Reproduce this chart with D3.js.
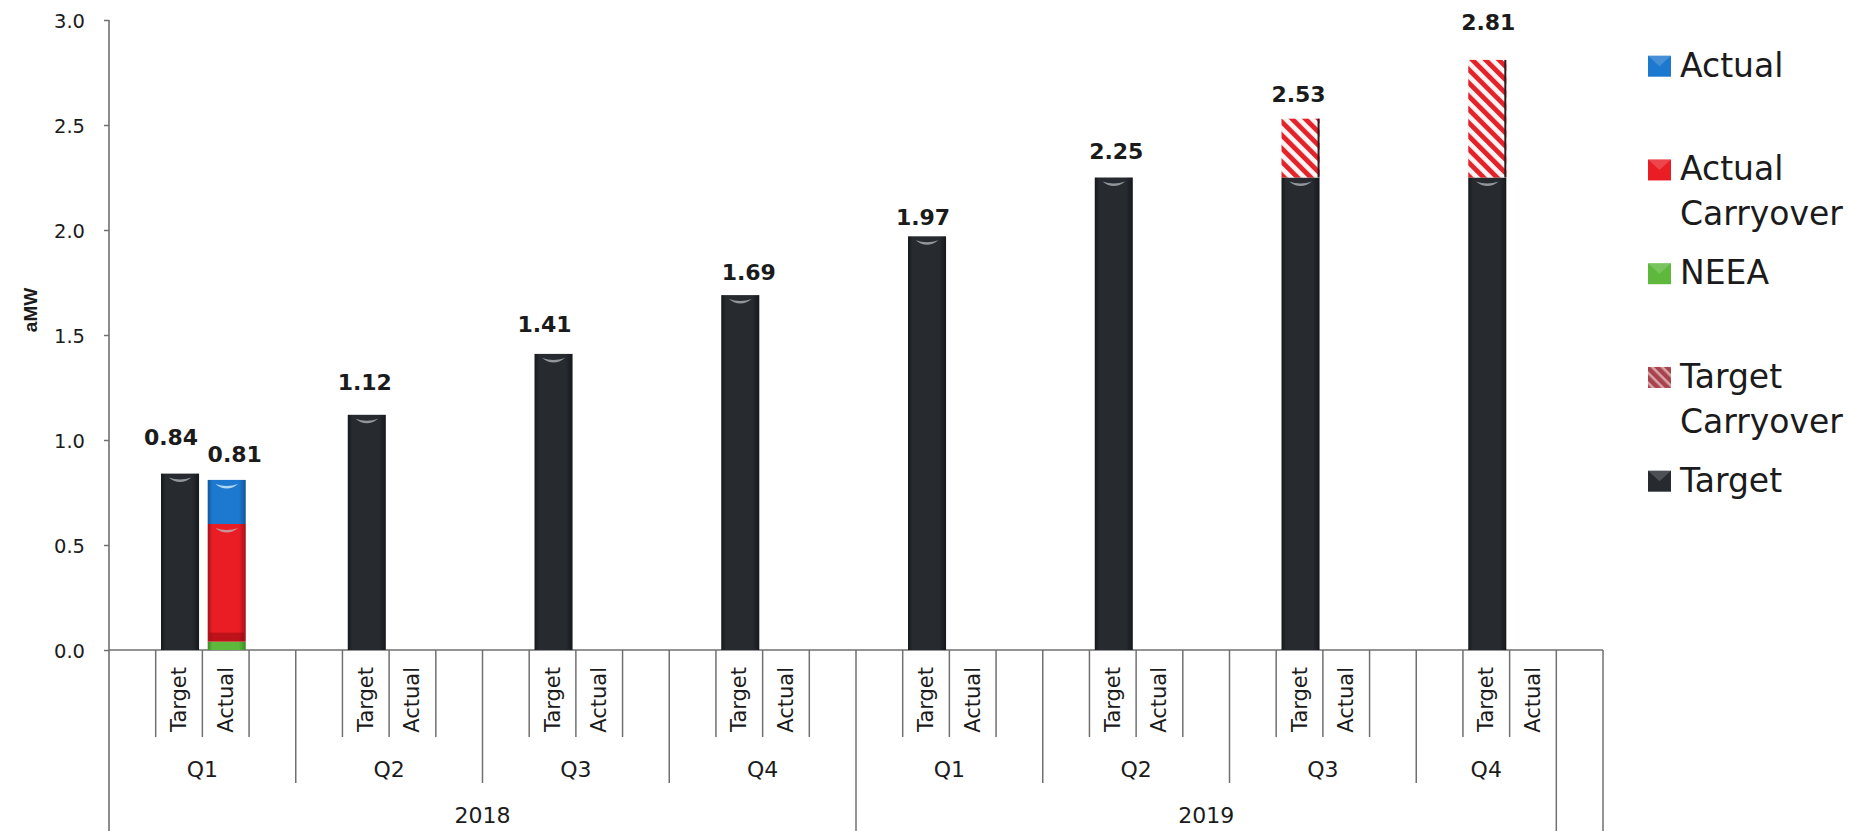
<!DOCTYPE html>
<html>
<head>
<meta charset="utf-8">
<script src="https://cdn.jsdelivr.net/npm/d3@7"></script>
<style>
  html, body { margin: 0; padding: 0; background: #ffffff; }
  svg { display: block; }
</style>
</head>
<body>
<div id="chart"></div>
<script>
// ---------------- DATA ----------------
const years = ["2018", "2019"];
const quarters = ["Q1", "Q2", "Q3", "Q4"];
const subLabels = ["Target", "Actual"];
const seriesNames = ["Target", "Target Carryover", "NEEA", "Actual Carryover", "Actual"];

// one value per quarter (2018 Q1 .. 2019 Q4)
const targetVals          = [0.84, 1.12, 1.41, 1.69, 1.97, 2.25, 2.25, 2.25];
const targetCarryoverVals = [0, 0, 0, 0, 0, 0, 0.28, 0.56];
const neeaVals            = [0.04, 0, 0, 0, 0, 0, 0, 0];
const actualCarryoverVals = [0.56, 0, 0, 0, 0, 0, 0, 0];
const actualVals          = [0.21, 0, 0, 0, 0, 0, 0, 0];

const yTicks = [0, 0.5, 1.0, 1.5, 2.0, 2.5, 3.0];
const yTitle = "aMW";

// ---------------- LAYOUT (not data) ----------------
const W = 1875, H = 831;
const plotLeft = 109, plotRight = 1603, plotTop = 20, baseY = 650;
const targetLabelDx  = [-9, -2, -9, 8.5, -4, 2.5, -2, 1];
const targetLabelGap = [29, 25, 22, 15, 11, 19, 17, 30];
const actualLabelDx  = [8, 0, 0, 0, 0, 0, 0, 0];
const actualLabelGap = [18, 18, 18, 18, 18, 18, 18, 18];

const colors = {
  "Target": "#272b30",
  "Target Carryover": "#e3222a",
  "NEEA": "#5db83c",
  "Actual Carryover": "#ea1d25",
  "Actual": "#1d78cf"
};
const edgeColors = {
  "Target": "#15181b",
  "NEEA": "#3d8a22",
  "Actual Carryover": "#a3101a",
  "Actual": "#135699"
};
const txt = "#1b1b1b";
const axisCol = "#707070";

// ---------------- BUILD ----------------
const svg = d3.select("#chart").append("svg")
  .attr("width", W).attr("height", H)
  .style("font-family", "'DejaVu Sans', sans-serif");

const defs = svg.append("defs");
const pat = defs.append("pattern").attr("id", "hatch")
  .attr("patternUnits", "userSpaceOnUse").attr("width", 9.4).attr("height", 9.4)
  .attr("patternTransform", "rotate(-45)");
pat.append("rect").attr("width", 9.4).attr("height", 9.4).attr("fill", "#fbf4f4");
pat.append("rect").attr("width", 4.8).attr("height", 9.4).attr("fill", colors["Target Carryover"]);
const pat2 = defs.append("pattern").attr("id", "hatchSmall")
  .attr("patternUnits", "userSpaceOnUse").attr("width", 7).attr("height", 7)
  .attr("patternTransform", "rotate(-45)");
pat2.append("rect").attr("width", 7).attr("height", 7).attr("fill", "#d9a3a8");
pat2.append("rect").attr("width", 4.5).attr("height", 7).attr("fill", "#a8434e");

Object.keys(edgeColors).forEach((k, i) => {
  const g = defs.append("linearGradient").attr("id", "bev" + i)
    .attr("x1", "0").attr("x2", "1").attr("y1", "0").attr("y2", "0");
  g.append("stop").attr("offset", "0").attr("stop-color", edgeColors[k]);
  g.append("stop").attr("offset", "0.12").attr("stop-color", colors[k]);
  g.append("stop").attr("offset", "0.82").attr("stop-color", colors[k]);
  g.append("stop").attr("offset", "1").attr("stop-color", edgeColors[k]);
});
const bevId = {};
Object.keys(edgeColors).forEach((k, i) => bevId[k] = "url(#bev" + i + ")");
bevId["Target Carryover"] = "url(#hatch)";

// leaves of the multi-level category axis
const leaves = [];
years.forEach((yr, yi) => quarters.forEach((q, qi) => {
  const p = yi * quarters.length + qi;
  const last = yi === years.length - 1 && qi === quarters.length - 1;
  leaves.push({ yr, q, p, label: "" });
  subLabels.forEach(s => leaves.push({ yr, q, p, label: s }));
  if (!last) leaves.push({ yr, q, p, label: "" });
}));
leaves.push({ yr: null, q: null, p: null, label: "" });

const x = d3.scaleBand().domain(d3.range(leaves.length)).range([plotLeft, plotRight]).padding(0);
const y = d3.scaleLinear().domain([0, 3]).range([baseY, plotTop]);
const bw = x.bandwidth();
const barW = bw * 0.815;

// ---- Y axis ----
const yAxisG = svg.append("g").attr("transform", `translate(${plotLeft},0)`);
yAxisG.call(d3.axisLeft(y).tickValues(yTicks).tickFormat(d3.format(".1f")).tickSize(5).tickPadding(19));
yAxisG.select(".domain").remove();
yAxisG.selectAll(".tick line").attr("stroke", axisCol).attr("stroke-width", 1.5);
yAxisG.selectAll(".tick text").attr("font-size", 19.5).attr("fill", txt)
  .attr("font-family", "'DejaVu Sans', sans-serif").attr("dy", "0.36em");
svg.append("line").attr("x1", plotLeft).attr("x2", plotLeft)
  .attr("y1", y(3)).attr("y2", H).attr("stroke", axisCol).attr("stroke-width", 1.6);

svg.append("text").attr("transform", `translate(37,${310}) rotate(-90)`)
  .attr("text-anchor", "middle").attr("font-family", "'Liberation Sans', Arial, sans-serif")
  .attr("font-weight", "bold").attr("font-size", 19).attr("fill", txt).text(yTitle);

// ---- category axis lines ----
svg.append("line").attr("x1", plotLeft).attr("x2", plotRight).attr("y1", baseY).attr("y2", baseY)
  .attr("stroke", axisCol).attr("stroke-width", 1.6);
const bounds = d3.range(1, leaves.length + 1).map(i => {
  const prev = leaves[i - 1], cur = leaves[i];
  let y2;
  if (!cur || cur.yr !== prev.yr) y2 = H;
  else if (cur.q !== prev.q) y2 = 783;
  else y2 = 737;
  return { xv: i < leaves.length ? x(i) : plotRight, y2 };
});
svg.append("g").selectAll("line").data(bounds).join("line")
  .attr("x1", d => d.xv).attr("x2", d => d.xv)
  .attr("y1", baseY).attr("y2", d => d.y2)
  .attr("stroke", axisCol).attr("stroke-width", 1.5);

svg.append("g").selectAll("text").data(leaves.map((d, i) => ({ ...d, i })).filter(d => d.label))
  .join("text")
  .attr("transform", d => `translate(${x(d.i) + bw / 2 + 7},667) rotate(-90)`)
  .attr("text-anchor", "end").attr("font-size", 21).attr("fill", txt).text(d => d.label);

const qGroups = d3.groups(leaves.map((d, i) => ({ ...d, i })).filter(d => d.q), d => d.p);
svg.append("g").selectAll("text").data(qGroups).join("text")
  .attr("x", ([, arr]) => (x(arr[0].i) + x(arr[arr.length - 1].i) + bw) / 2)
  .attr("y", 777).attr("text-anchor", "middle").attr("font-size", 22).attr("fill", txt)
  .text(([, arr]) => arr[0].q);

const yGroups = d3.groups(leaves.map((d, i) => ({ ...d, i })).filter(d => d.yr), d => d.yr);
svg.append("g").selectAll("text").data(yGroups).join("text")
  .attr("x", ([, arr]) => (x(arr[0].i) + x(arr[arr.length - 1].i) + bw) / 2)
  .attr("y", 823).attr("text-anchor", "middle").attr("font-size", 22).attr("fill", txt)
  .text(([k]) => k);

// ---- bars ----
const periods = d3.range(targetVals.length);
const targetRows = periods.map(p => ({ p, "Target": targetVals[p], "Target Carryover": targetCarryoverVals[p] }));
const actualRows = periods.map(p => ({ p, "NEEA": neeaVals[p], "Actual Carryover": actualCarryoverVals[p], "Actual": actualVals[p] }));
const tStack = d3.stack().keys(["Target", "Target Carryover"])(targetRows);
const aStack = d3.stack().keys(["NEEA", "Actual Carryover", "Actual"])(actualRows);
const leafIndex = (p, label) => leaves.findIndex(l => l.p === p && l.label === label);

const segs = [];
tStack.forEach(s => s.forEach(d => { if (d[1] - d[0] > 0) segs.push({ key: s.key, y0: d[0], y1: d[1], li: leafIndex(d.data.p, "Target") }); }));
aStack.forEach(s => s.forEach(d => { if (d[1] - d[0] > 0) segs.push({ key: s.key, y0: d[0], y1: d[1], li: leafIndex(d.data.p, "Actual") }); }));

const barX = li => x(li) + (bw - barW) / 2 + 1;
const barsG = svg.append("g");
barsG.selectAll("rect.seg").data(segs).join("rect").attr("class", "seg")
  .attr("x", d => barX(d.li)).attr("width", barW)
  .attr("y", d => y(d.y1)).attr("height", d => y(d.y0) - y(d.y1))
  .attr("fill", d => bevId[d.key]);
barsG.selectAll("line.edge").data(segs.filter(d => d.key === "Target Carryover")).join("line")
  .attr("class", "edge")
  .attr("x1", d => barX(d.li) + barW - 1).attr("x2", d => barX(d.li) + barW - 1)
  .attr("y1", d => y(d.y1)).attr("y2", d => y(d.y0))
  .attr("stroke", "#2a1c1e").attr("stroke-width", 2);
barsG.selectAll("path.hl").data(segs.filter(d => d.key !== "Target Carryover" && d.key !== "NEEA")).join("path")
  .attr("class", "hl")
  .attr("d", d => {
    const x0 = barX(d.li), t = y(d.y1), cx = x0 + barW / 2;
    return `M${x0 + barW * 0.2},${t + 4} Q${cx},${t + 13} ${x0 + barW * 0.8},${t + 4} Q${cx},${t + 8} ${x0 + barW * 0.2},${t + 4}Z`;
  })
  .attr("fill", d => d.key === "Actual" ? "rgba(215,238,255,0.8)" : "rgba(190,196,202,0.7)");
barsG.selectAll("rect.shade").data(segs.filter(d => d.key === "Actual Carryover")).join("rect")
  .attr("class", "shade")
  .attr("x", d => barX(d.li) + 2).attr("width", barW - 4)
  .attr("y", d => y(d.y0) - 9).attr("height", 9)
  .attr("fill", "rgba(110,0,10,0.35)");

// ---- value labels ----
const labels = [];
periods.forEach(p => {
  const tTot = targetVals[p] + targetCarryoverVals[p];
  labels.push({ v: tTot, li: leafIndex(p, "Target"), dx: targetLabelDx[p], gap: targetLabelGap[p] });
  const aTot = neeaVals[p] + actualCarryoverVals[p] + actualVals[p];
  if (aTot > 0) labels.push({ v: aTot, li: leafIndex(p, "Actual"), dx: actualLabelDx[p], gap: actualLabelGap[p] });
});
svg.append("g").selectAll("text").data(labels).join("text")
  .attr("x", d => barX(d.li) + barW / 2 + d.dx)
  .attr("y", d => y(d.v) - d.gap)
  .attr("text-anchor", "middle").attr("font-weight", "bold").attr("font-size", 22)
  .attr("fill", txt).text(d => d3.format(".2f")(d.v));

// ---- legend ----
const legendKeys = seriesNames.slice().reverse();
const lg = svg.append("g");
const legendFill = {
  "Actual": colors["Actual"], "Actual Carryover": colors["Actual Carryover"],
  "NEEA": colors["NEEA"], "Target Carryover": "url(#hatchSmall)", "Target": colors["Target"]
};
legendKeys.forEach((k, i) => {
  const base = 76.7 + i * 103.75;
  lg.append("rect").attr("x", 1648).attr("y", base - 21).attr("width", 23).attr("height", 21)
    .attr("fill", legendFill[k]);
  if (k !== "Target Carryover") {
    lg.append("path")
      .attr("d", `M1648,${base - 21} L1659.5,${base - 10.5} L1671,${base - 21} Z`)
      .attr("fill", "rgba(255,255,255,0.18)");
  }
  const t = lg.append("text").attr("x", 1680).attr("y", base).attr("font-size", 33).attr("fill", txt);
  k.split(" ").forEach((w, j) => t.append("tspan").attr("x", 1680).attr("dy", j === 0 ? 0 : 45).text(w));
});
</script>
</body>
</html>
